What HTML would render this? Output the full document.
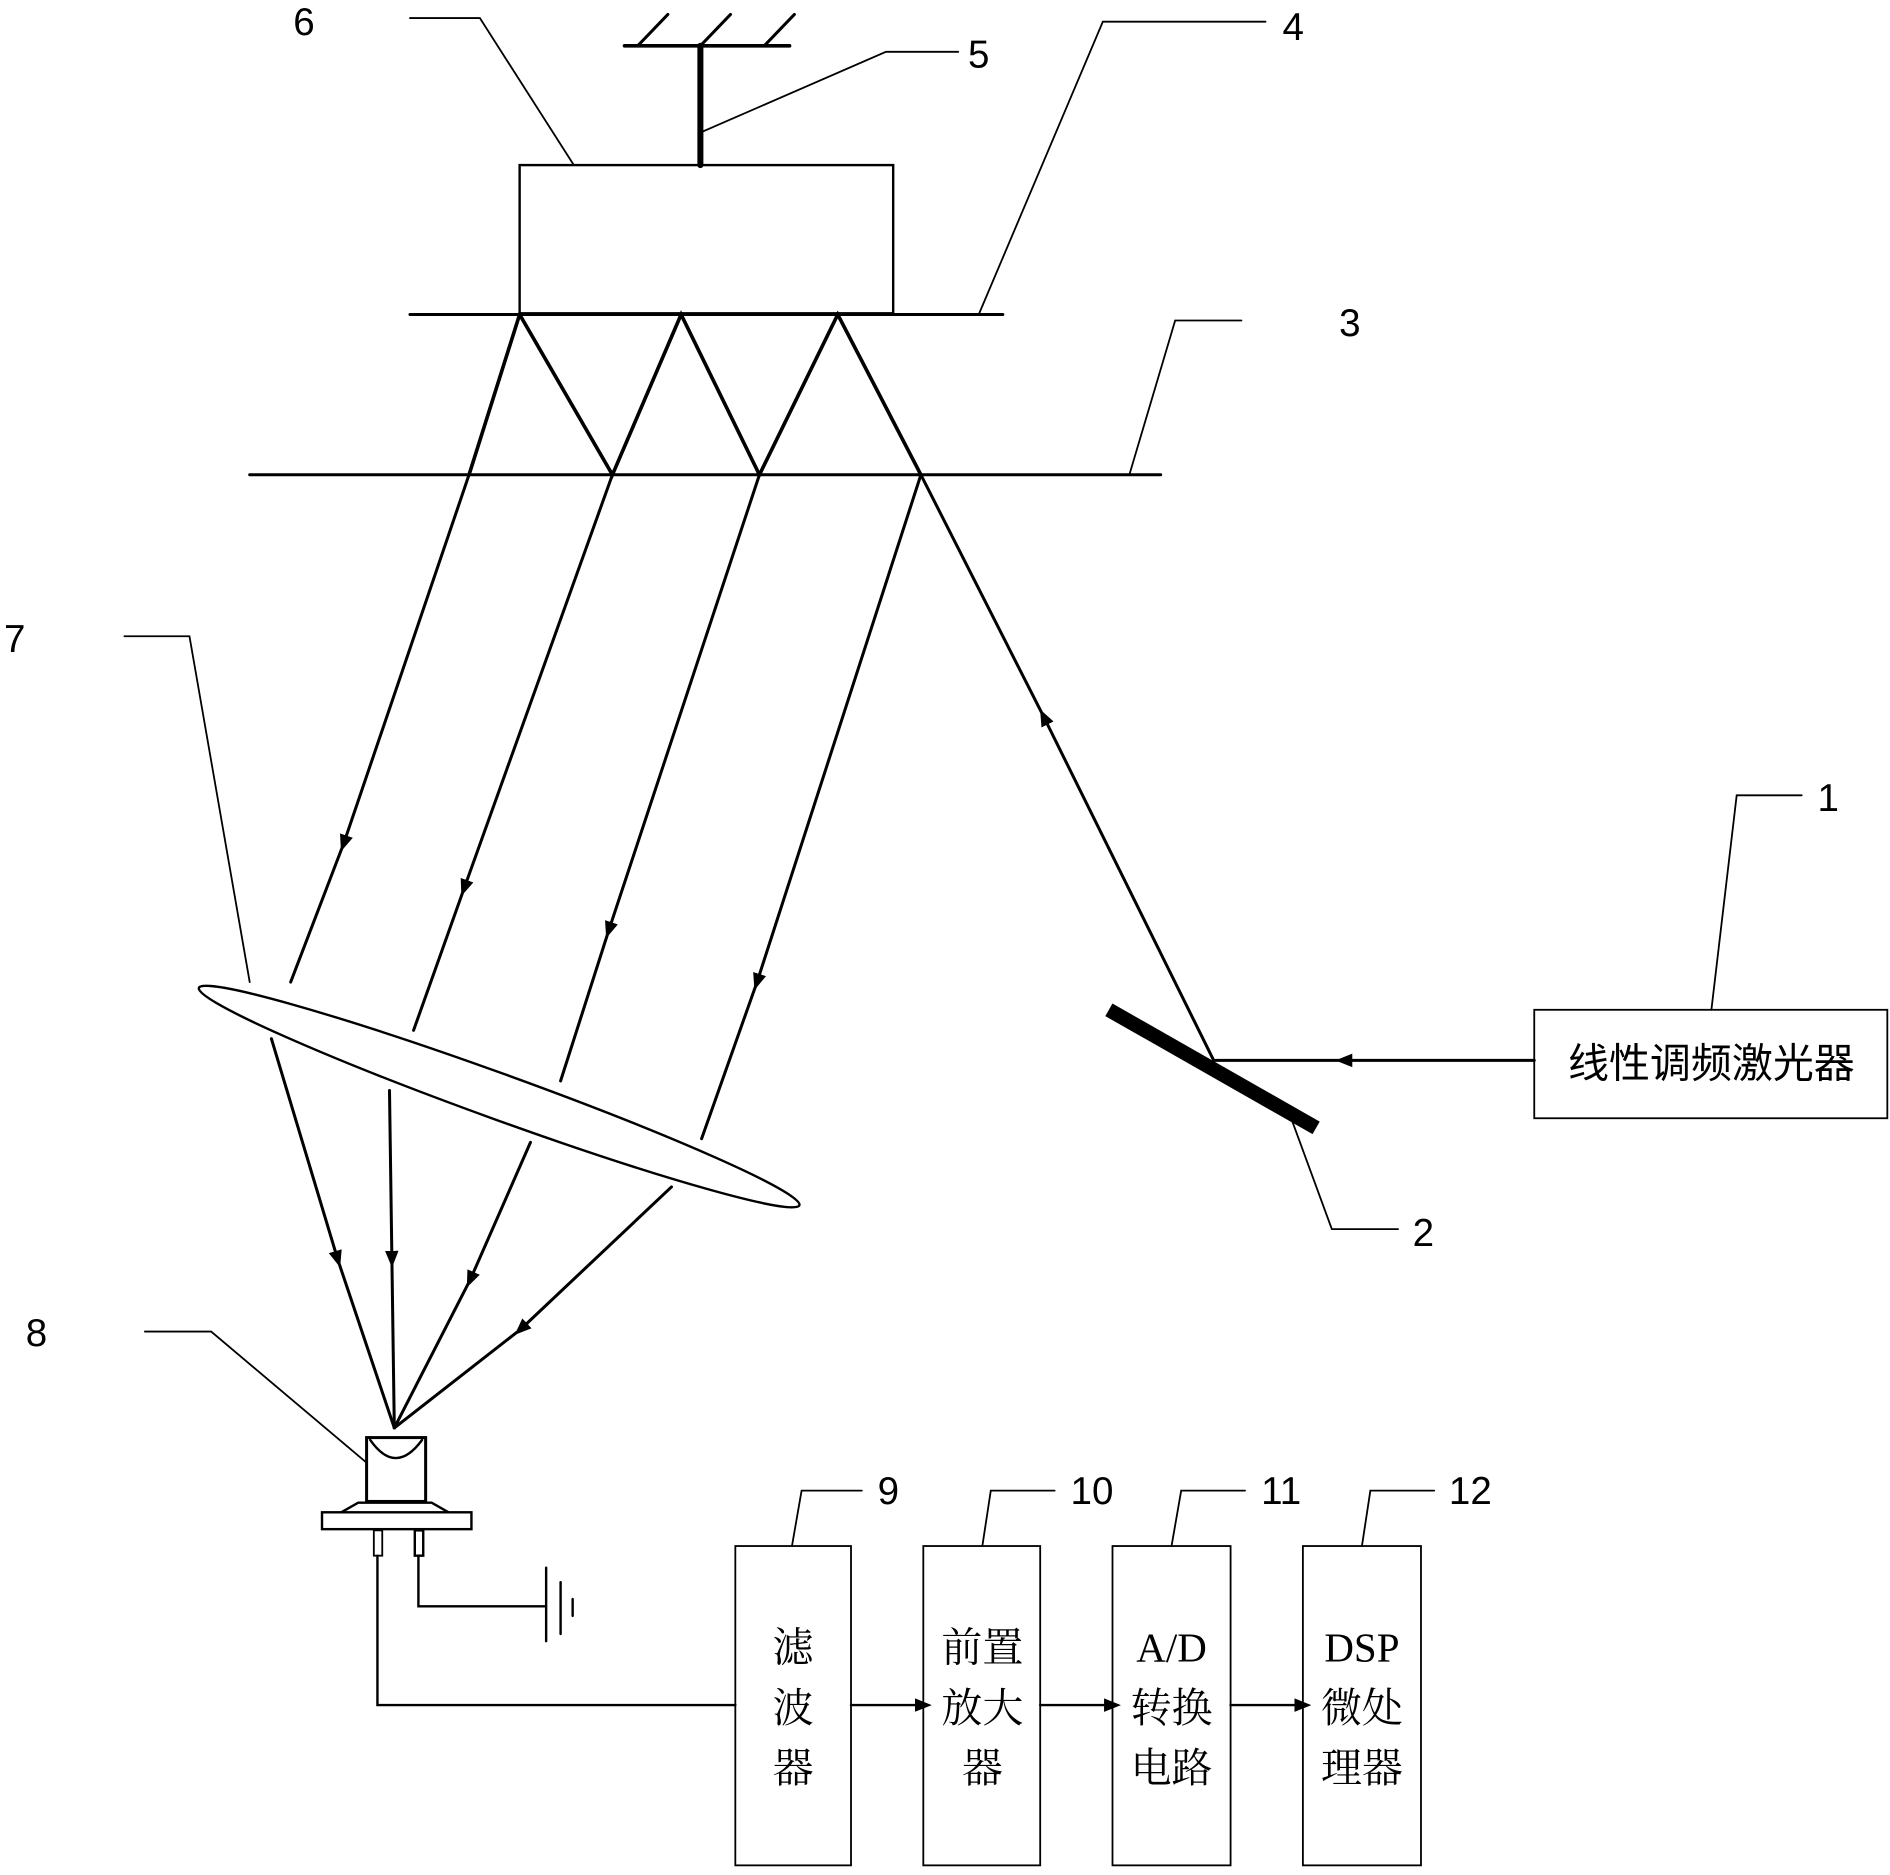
<!DOCTYPE html>
<html><head><meta charset="utf-8"><style>html,body{margin:0;padding:0;background:#fff}svg{display:block}</style></head>
<body>
<svg width="1890" height="1875" viewBox="0 0 1568 1556" xmlns="http://www.w3.org/2000/svg">
<defs>
<marker id="a" viewBox="0 0 10 10" refX="5" refY="5" markerWidth="14" markerHeight="14" markerUnits="userSpaceOnUse" orient="auto"><path d="M0,1 L10,5 L0,9 z" fill="#000"/></marker>
</defs>
<g stroke="#000" fill="none" stroke-linecap="round">
<!-- mount -->
<line x1="518" y1="38" x2="655" y2="38" stroke-width="3"/>
<line x1="529" y1="38" x2="554" y2="12" stroke-width="2.5"/>
<line x1="581" y1="38" x2="606" y2="12" stroke-width="2.5"/>
<line x1="634" y1="38" x2="659" y2="12" stroke-width="2.5"/>
<line x1="581" y1="38" x2="581" y2="137" stroke-width="5"/>
<rect x="431" y="137" width="310" height="123" stroke-width="2"/>
<!-- leaders -->
<g stroke-width="1.5">
<polyline points="581,110 735,43 795,43"/>
<polyline points="476,137 398,15 340,15"/>
<polyline points="812,261 915,18 1050,18"/>
<polyline points="937,394 975,266 1030,266"/>
<polyline points="207,815 157,528 103,528"/>
<polyline points="303,1213 175,1105 120,1105"/>
<polyline points="1072,930 1105,1020 1160,1020"/>
<polyline points="1420,838 1441,660 1495,660"/>
<polyline points="657,1283 665,1237 715,1237"/>
<polyline points="815,1283 822,1237 875,1237"/>
<polyline points="972,1283 980,1237 1033,1237"/>
<polyline points="1130,1283 1137,1237 1190,1237"/>
</g>
<line x1="340" y1="261" x2="832" y2="261" stroke-width="2.5"/>
<line x1="207" y1="394" x2="963" y2="394" stroke-width="2.5"/>
<polyline points="389,394 431,261 508,394 565,261 630,394 695,261 764,394" stroke-width="3"/>
<!-- rays down -->
<g stroke-width="2.5">
<line x1="389" y1="394" x2="285" y2="700" marker-end="url(#a)"/><line x1="285" y1="700" x2="241" y2="815"/>
<line x1="508" y1="394" x2="385" y2="737" marker-end="url(#a)"/><line x1="385" y1="737" x2="343" y2="855"/>
<line x1="630" y1="394" x2="505" y2="772" marker-end="url(#a)"/><line x1="505" y1="772" x2="465" y2="897"/>
<line x1="764" y1="394" x2="628" y2="815" marker-end="url(#a)"/><line x1="628" y1="815" x2="582" y2="945"/>
<line x1="1007" y1="880" x2="866" y2="595" marker-end="url(#a)"/><line x1="866" y1="595" x2="764" y2="394"/>
<line x1="1273" y1="880" x2="1115" y2="880" marker-end="url(#a)"/><line x1="1115" y1="880" x2="1007" y2="880"/>
<line x1="225" y1="862" x2="280" y2="1045" marker-end="url(#a)"/><line x1="280" y1="1045" x2="327" y2="1185"/>
<line x1="323" y1="905" x2="325" y2="1045" marker-end="url(#a)"/><line x1="325" y1="1045" x2="327" y2="1185"/>
<line x1="440" y1="948" x2="390" y2="1062" marker-end="url(#a)"/><line x1="390" y1="1062" x2="327" y2="1185"/>
<line x1="557" y1="985" x2="432" y2="1103" marker-end="url(#a)"/><line x1="432" y1="1103" x2="327" y2="1185"/>
</g>
<ellipse cx="414" cy="910" rx="265" ry="19" transform="rotate(19.9 414 910)" stroke-width="2" fill="#fff"/>
<g stroke-width="2.5">
<line x1="225" y1="862" x2="241" y2="815" stroke-width="0"/>
</g>
<!-- mirror -->
<line x1="920" y1="838" x2="1092" y2="936" stroke-width="12" stroke-linecap="butt"/>
<rect x="1273" y="838" width="293" height="90" stroke-width="1.5"/>
<!-- detector -->
<rect x="304" y="1193" width="49" height="53" stroke-width="2.5" fill="#fff"/>
<path d="M307,1195 Q328,1225 350,1195" stroke-width="2"/>
<path d="M283,1255 L297,1247 L358,1247 L372,1255" stroke-width="2"/>
<rect x="267" y="1255" width="124" height="14" stroke-width="2"/>
<rect x="310" y="1270" width="7" height="21" stroke-width="1.5"/>
<rect x="344" y="1270" width="7" height="21" stroke-width="2"/>
<polyline points="313,1291 313,1415 610,1415" stroke-width="2"/>
<polyline points="347,1291 347,1333 453,1333" stroke-width="2"/>
<line x1="453" y1="1301" x2="453" y2="1362" stroke-width="2"/>
<line x1="465" y1="1313" x2="465" y2="1356" stroke-width="2"/>
<line x1="475" y1="1327" x2="475" y2="1341" stroke-width="2"/>
<!-- boxes -->
<rect x="610" y="1283" width="96" height="265" stroke-width="1.5"/>
<rect x="766" y="1283" width="97" height="265" stroke-width="1.5"/>
<rect x="923" y="1283" width="98" height="265" stroke-width="1.5"/>
<rect x="1081" y="1283" width="98" height="265" stroke-width="1.5"/>
<line x1="706" y1="1415" x2="766" y2="1415" stroke-width="2" marker-end="url(#a)"/>
<line x1="863" y1="1415" x2="923" y2="1415" stroke-width="2" marker-end="url(#a)"/>
<line x1="1021" y1="1415" x2="1081" y2="1415" stroke-width="2" marker-end="url(#a)"/>
</g>
<g font-family="Liberation Sans, sans-serif" font-size="32" fill="#000" text-anchor="middle">
<text x="252" y="29">6</text><text x="812" y="56">5</text><text x="1073" y="33">4</text><text x="1120" y="279">3</text>
<text x="12" y="541">7</text><text x="30" y="1117">8</text><text x="1181" y="1034">2</text><text x="1517" y="673">1</text>
<text x="737" y="1248">9</text><text x="906" y="1248">10</text><text x="1063" y="1248">11</text><text x="1220" y="1248">12</text>
</g>
<g font-family="Liberation Serif, Noto Serif CJK SC, serif" font-size="34" fill="#000" text-anchor="middle">
<text x="1420" y="894" font-family="Liberation Sans, Noto Sans CJK SC, sans-serif">线性调频激光器</text>
<text x="658" y="1379">滤</text><text x="658" y="1429">波</text><text x="658" y="1479">器</text>
<text x="815" y="1379">前置</text><text x="815" y="1429">放大</text><text x="815" y="1479">器</text>
<text x="972" y="1379">A/D</text><text x="972" y="1429">转换</text><text x="972" y="1479">电路</text>
<text x="1130" y="1379">DSP</text><text x="1130" y="1429">微处</text><text x="1130" y="1479">理器</text>
</g>
</svg>
</body></html>
